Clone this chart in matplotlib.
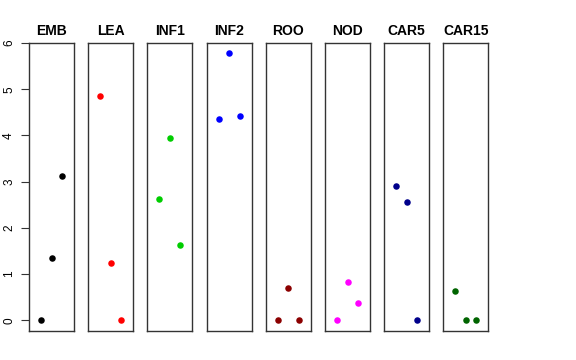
import numpy as np
import matplotlib
matplotlib.use('Agg')
from matplotlib import pyplot as plt

plt.rcParams['font.family'] = ['Liberation Sans', 'DejaVu Sans']

# tissues and their three values each
tissues = ['EMB', 'LEA', 'INF1', 'INF2', 'ROO', 'NOD', 'CAR5', 'CAR15']
values = {
    'EMB':   [0.00, 1.35, 3.12],
    'LEA':   [4.86, 1.24, 0.00],
    'INF1':  [2.63, 3.94, 1.62],
    'INF2':  [4.36, 5.78, 4.43],
    'ROO':   [0.00, 0.70, 0.00],
    'NOD':   [0.00, 0.82, 0.38],
    'CAR5':  [2.91, 2.55, 0.00],
    'CAR15': [0.63, 0.00, 0.00],
}
colors = ['black', 'red', '#00CD00', 'blue', '#8B0000', 'magenta', '#00008B', '#006400']
yticks = [0, 1, 2, 3, 4, 5, 6]

W, H = 576, 360
fig = plt.figure(figsize=(W/100, H/100), dpi=100)

left0 = 29
pw = 45
step = 59.2
top = 43
bottom = 331

for i, name in enumerate(tissues):
    x0 = left0 + step*i
    ax = fig.add_axes([x0/W, 1 - bottom/H, pw/W, (bottom - top)/H])
    ax.scatter([1, 2, 3], values[name], s=22, color=colors[i], zorder=3, linewidths=0)
    ax.set_xlim(-0.16, 4.16)
    ax.set_ylim(-0.231, 6)
    ax.set_xticks([])
    for sp in ax.spines.values():
        sp.set_color('#333333')
        sp.set_linewidth(1)
    ax.set_title(name, fontsize=10, fontweight='bold', pad=6)
    if i == 0:
        ax.set_yticks(yticks)
        ax.set_yticklabels([str(t) for t in yticks], rotation=90, va='center', fontsize=8.5)
        ax.tick_params(axis='y', length=6, width=0.8, color='#333333', pad=4)
    else:
        ax.set_yticks([])

fig.savefig('out.png', dpi=100)
